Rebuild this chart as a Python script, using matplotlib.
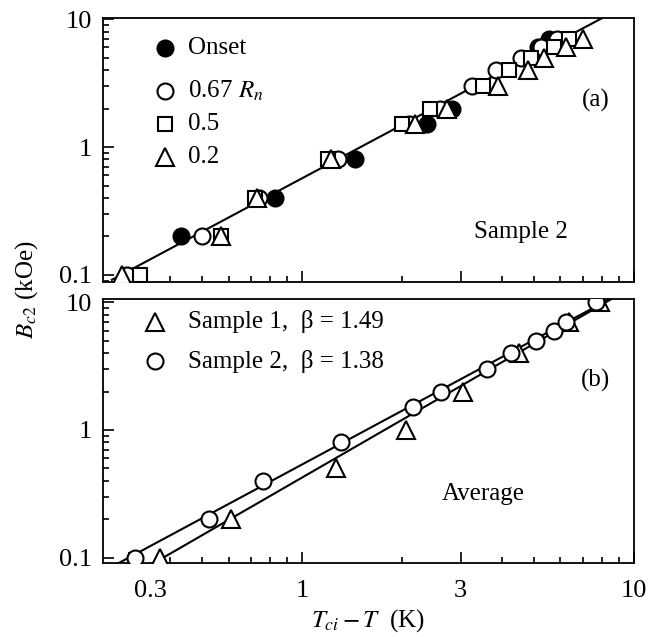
import matplotlib
matplotlib.use("Agg")
import matplotlib.pyplot as plt
import matplotlib.transforms as mtransforms
from matplotlib.ticker import LogLocator, NullFormatter

plt.rcParams['font.family'] = ['Liberation Serif', 'DejaVu Serif']
plt.rcParams['mathtext.fontset'] = 'stix'

# ---- panel (a): Sample 2, different resistive criteria ----
# Bc2 (kOe) vs Tci - T (K)
onset_x = [0.431, 0.829, 1.445, 2.38, 2.82, 5.12, 5.55]
onset_b = [0.2, 0.4, 0.8, 1.5, 2, 6, 7]

rn067_x = [0.296, 0.50, 0.74, 1.28, 2.1, 2.6, 3.24, 3.85, 4.57, 5.24, 5.88]
rn067_b = [0.1, 0.2, 0.4, 0.8, 1.5, 2, 3, 4, 5, 6, 7]

rn05_x = [0.324, 0.57, 0.723, 1.196, 2.0, 2.43, 3.51, 4.21, 4.89, 5.73, 6.37]
rn05_b = [0.1, 0.2, 0.4, 0.8, 1.5, 2, 3, 4, 5, 6, 7]

rn02_x = [0.286, 0.57, 0.731, 1.22, 2.19, 2.73, 3.89, 4.78, 5.35, 6.22, 7.04]
rn02_b = [0.1, 0.2, 0.4, 0.8, 1.5, 2, 3, 4, 5, 6, 7]

fit_a_x = [0.267, 8.19]
fit_a_b = [0.0915, 10.5]

# ---- panel (b): averages ----
s1_x = [0.372, 0.612, 1.266, 2.05, 3.06, 4.51, 6.37, 7.9]
s1_b = [0.1, 0.2, 0.5, 1.0, 2, 4, 7, 10]

s2_x = [0.313, 0.522, 0.761, 1.305, 2.16, 2.62, 3.61, 4.26, 5.06, 5.74, 6.22, 7.7]
s2_b = [0.1, 0.2, 0.4, 0.8, 1.5, 2, 3, 4, 5, 6, 7, 10]

fit_s1_x = [0.355, 8.5]
fit_s1_b = [0.09, 10.5]
fit_s2_x = [0.278, 8.4]
fit_s2_b = [0.09, 10.5]

xticks = [0.3, 1, 3, 10]
xticklabels = ['0.3', '1', '3', '10']
yticks = [0.1, 1, 10]
yticklabels = ['0.1', '1', '10']

FS = 18
ms = 11.5
mew = 1.5

fig = plt.figure(figsize=(6.51, 6.37), dpi=100)
ax1 = fig.add_axes([0.1582, 0.5573, 0.8157, 0.4144])
ax2 = fig.add_axes([0.1582, 0.1162, 0.8157, 0.4144])


def style_axis(ax, ylim):
    ax.set_xscale('log')
    ax.set_yscale('log')
    ax.set_xlim(0.251, 9.66)
    ax.set_ylim(*ylim)
    ax.set_xticks(xticks)
    ax.set_yticks(yticks)
    ax.set_yticklabels(yticklabels)
    ax.xaxis.set_minor_locator(LogLocator(base=10, subs=range(2, 10)))
    ax.yaxis.set_minor_locator(LogLocator(base=10, subs=range(2, 10)))
    ax.xaxis.set_minor_formatter(NullFormatter())
    ax.yaxis.set_minor_formatter(NullFormatter())
    ax.tick_params(which='both', direction='in', top=False, right=False,
                   width=1.2, labelsize=19)
    ax.tick_params(which='major', length=8)
    ax.tick_params(which='minor', length=4.5)
    ax.tick_params(axis='y', pad=8)
    ax.tick_params(axis='x', pad=12)
    for s in ax.spines.values():
        s.set_linewidth(1.3)


style_axis(ax1, (0.088, 10.2))
style_axis(ax2, (0.091, 10.6))
ax1.set_xticklabels([])
ax2.set_xticklabels(xticklabels)
# the "0.3" label sits a little right of its tick in the original
shift = mtransforms.ScaledTranslation(0.22, 0, fig.dpi_scale_trans)
lab03 = ax2.get_xticklabels()[0]
lab03.set_transform(lab03.get_transform() + shift)

# panel (a)
ax1.plot(fit_a_x, fit_a_b, color='black', lw=1.5, zorder=1)
ax1.plot(onset_x, onset_b, 'o', ls='none', ms=ms, mfc='black', mec='black', mew=mew, zorder=3)
ax1.plot(rn067_x, rn067_b, 'o', ls='none', ms=ms, mfc='white', mec='black', mew=mew, zorder=3)
ax1.plot(rn05_x, rn05_b, 's', ls='none', ms=ms - 1, mfc='white', mec='black', mew=mew, zorder=3)
ax1.plot(rn02_x, rn02_b, '^', ls='none', ms=ms + 1, mfc='white', mec='black', mew=mew, zorder=3)

leg_a = [('o', 'black', 'Onset', 0.886, ms),
         ('o', 'white', '0.67 $R_n$', 0.723, ms),
         ('s', 'white', '0.5', 0.598, ms - 1),
         ('^', 'white', '0.2', 0.473, ms + 1)]
for mk, fc, lab, yy, sz in leg_a:
    ax1.plot([0.117], [yy], mk, transform=ax1.transAxes, ms=sz, mfc=fc, mec='black', mew=mew, clip_on=False)
    ax1.text(0.160, yy, lab, transform=ax1.transAxes, fontsize=FS, va='center', ha='left')

ax1.text(0.928, 0.689, '(a)', transform=ax1.transAxes, fontsize=FS, ha='center', va='center')
ax1.text(0.787, 0.189, 'Sample 2', transform=ax1.transAxes, fontsize=FS, ha='center', va='center')

# panel (b)
ax2.plot(fit_s1_x, fit_s1_b, color='black', lw=1.5, zorder=1)
ax2.plot(fit_s2_x, fit_s2_b, color='black', lw=1.5, zorder=1)
ax2.plot(s1_x, s1_b, '^', ls='none', ms=ms + 1, mfc='white', mec='black', mew=mew, zorder=3)
ax2.plot(s2_x, s2_b, 'o', ls='none', ms=ms, mfc='white', mec='black', mew=mew, zorder=3)

leg_b = [('^', 'Sample 1,  \u03b2 = 1.49', 0.913, ms + 1),
         ('o', 'Sample 2,  \u03b2 = 1.38', 0.765, ms)]
for mk, lab, yy, sz in leg_b:
    ax2.plot([0.098], [yy], mk, transform=ax2.transAxes, ms=sz, mfc='white', mec='black', mew=mew, clip_on=False)
    ax2.text(0.160, yy, lab, transform=ax2.transAxes, fontsize=FS, va='center', ha='left')

ax2.text(0.928, 0.693, '(b)', transform=ax2.transAxes, fontsize=FS, ha='center', va='center')
ax2.text(0.716, 0.261, 'Average', transform=ax2.transAxes, fontsize=FS, ha='center', va='center')

ax2.set_xlabel('$T_{ci} - T$  (K)', fontsize=FS, labelpad=4)
fig.text(0.041, 0.545, '$B_{c2}$ (kOe)', rotation=90, fontsize=FS, ha='center', va='center')

fig.savefig('out.png', dpi=100)
